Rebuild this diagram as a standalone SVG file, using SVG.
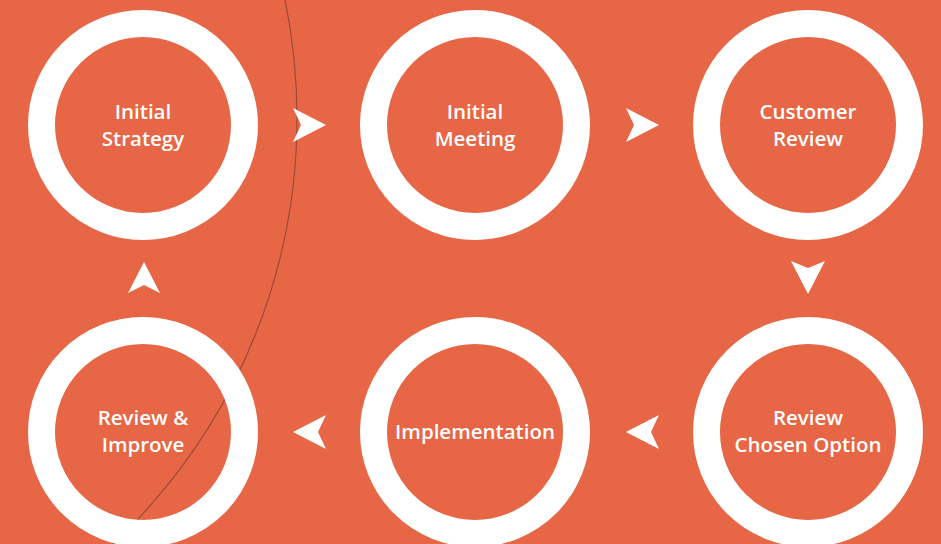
<svg xmlns="http://www.w3.org/2000/svg" width="941" height="544" viewBox="0 0 941 544">
<style>
.ring{fill:none;stroke:#FFFFFF;stroke-width:27}
.lbl{font-family:"Open Sans","Noto Sans","Liberation Sans",sans-serif;font-weight:600;font-size:20.5px;fill:#FFFFFF;text-anchor:middle}
.arr{fill:#FFFFFF}
</style>
<rect x="0" y="0" width="941" height="544" fill="#E66645"/>
<circle cx="-288" cy="118" r="585" fill="none" stroke="#9E4A36" stroke-width="1.2"/>
<g id="node-initial-strategy">
<circle class="ring" cx="143" cy="125" r="101.5"/>
<text class="lbl" x="143" y="119">Initial</text>
<text class="lbl" x="143" y="146">Strategy</text>
</g>
<g id="node-initial-meeting">
<circle class="ring" cx="475" cy="125" r="101.5"/>
<text class="lbl" x="475" y="119">Initial</text>
<text class="lbl" x="475" y="146">Meeting</text>
</g>
<g id="node-customer-review">
<circle class="ring" cx="808" cy="125" r="101.5"/>
<text class="lbl" x="808" y="119">Customer</text>
<text class="lbl" x="808" y="146">Review</text>
</g>
<g id="node-review-chosen-option">
<circle class="ring" cx="808" cy="432" r="101.5"/>
<text class="lbl" x="808" y="425">Review</text>
<text class="lbl" x="808" y="452">Chosen Option</text>
</g>
<g id="node-implementation">
<circle class="ring" cx="475" cy="432" r="101.5"/>
<text class="lbl" x="475" y="439">Implementation</text>
</g>
<g id="node-review-improve">
<circle class="ring" cx="143" cy="432" r="101.5"/>
<text class="lbl" x="143" y="425">Review &amp;</text>
<text class="lbl" x="143" y="452">Improve</text>
</g>
<g id="connectors">
<path class="arr" d="M293,108 L326,125 L293,142 L301,125 Z"/>
<path class="arr" d="M626,108 L659,125 L626,142 L634,125 Z"/>
<path class="arr" d="M791,261 L808,268 L825,261 L808,294 Z"/>
<path class="arr" d="M326,415 L293,432 L326,449 L318,432 Z"/>
<path class="arr" d="M659,415 L626,432 L659,449 L651,432 Z"/>
<path class="arr" d="M144,262 L160,293 L144,285 L128,293 Z"/>
</g>
</svg>
